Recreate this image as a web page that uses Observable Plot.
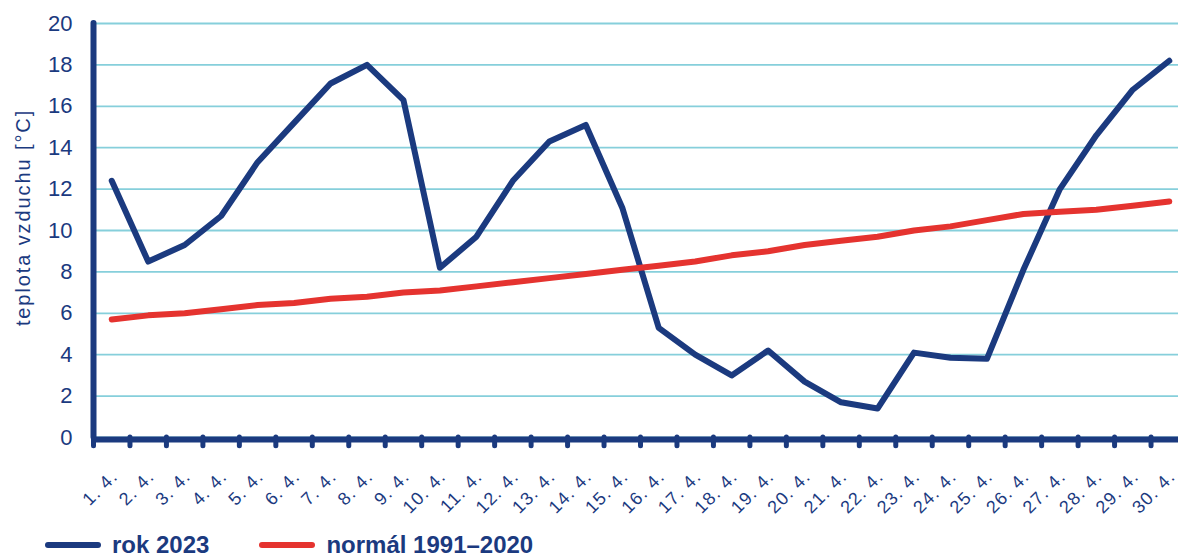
<!DOCTYPE html>
<html><head><meta charset="utf-8">
<script src="https://cdn.jsdelivr.net/npm/d3@7"></script>
<script src="https://cdn.jsdelivr.net/npm/@observablehq/plot@0.6"></script>
<style>
body{margin:0;background:#fff;font-family:"Liberation Sans",Arial,sans-serif;}
#wrap{position:relative;width:1178px;height:553px;overflow:hidden;background:#fff}
#wrap svg{display:block}
.legend{position:absolute;left:45px;top:531px;display:flex;align-items:center;font-weight:bold;font-size:24px;line-height:28px;color:#1b3a7f;white-space:nowrap}
.sw{display:inline-block;width:56px;height:6px;border-radius:3px;margin-right:11px}
.item{display:flex;align-items:center;margin-right:50px}
</style></head><body><div id="wrap"></div>
<script>
const days = [1,2,3,4,5,6,7,8,9,10,11,12,13,14,15,16,17,18,19,20,21,22,23,24,25,26,27,28,29,30];
const dayLabels = ["1. 4.","2. 4.","3. 4.","4. 4.","5. 4.","6. 4.","7. 4.","8. 4.","9. 4.","10. 4.","11. 4.","12. 4.","13. 4.","14. 4.","15. 4.","16. 4.","17. 4.","18. 4.","19. 4.","20. 4.","21. 4.","22. 4.","23. 4.","24. 4.","25. 4.","26. 4.","27. 4.","28. 4.","29. 4.","30. 4."];
const rok2023 = [12.4,8.5,9.3,10.7,13.3,15.2,17.1,18.0,16.3,8.2,9.7,12.4,14.3,15.1,11.1,5.3,4.0,3.0,4.2,2.7,1.7,1.4,4.1,3.85,3.8,8.1,12.0,14.6,16.8,18.2];
const normal = [5.7,5.9,6.0,6.2,6.4,6.5,6.7,6.8,7.0,7.1,7.3,7.5,7.7,7.9,8.1,8.3,8.5,8.8,9.0,9.3,9.5,9.7,10.0,10.2,10.5,10.8,10.9,11.0,11.2,11.4];
const yTicks = [0,2,4,6,8,10,12,14,16,18,20];
const yLabel = "teplota vzduchu [°C]";
const seriesNames = ["rok 2023","normál 1991–2020"];

const blue = "#1b3a7f", red = "#e5332f", grid = "#86cfdb";
const rowsA = days.map((d,i)=>({day:d, label:dayLabels[i], v:rok2023[i]}));
const rowsB = days.map((d,i)=>({day:d, v:normal[i]}));
const bounds = days.map(d => d - 0.5);

const chart = Plot.plot({
  width: 1178, height: 490,
  marginLeft: 93, marginRight: 0, marginTop: 23, marginBottom: 53,
  style: {fontFamily: '"Liberation Sans", Arial, sans-serif', color: blue, background: "#fff", overflow: "visible"},
  x: {type: "linear", domain: [0.5, 30.5], range: [93, 1187], axis: null},
  y: {domain: [0, 20], axis: null},
  marks: [
    Plot.ruleY(yTicks, {stroke: grid, strokeWidth: 1.8}),
    Plot.ruleX(bounds, {x: d => d, y1: () => 0, y2: () => -0.42, stroke: blue, strokeWidth: 5, strokeLinecap: "round"}),
    Plot.ruleY([0], {stroke: blue, strokeWidth: 6, dy: 2}),
    Plot.ruleX([bounds[0]], {x: d => d, y1: () => 0, y2: () => 20, stroke: blue, strokeWidth: 6, strokeLinecap: "round"}),
    Plot.text(yTicks, {x: () => bounds[0], y: d => d, text: d => String(d), textAnchor: "end", dx: -21, fontSize: 22, fill: blue}),
    Plot.text(rowsA, {x: "day", y: () => 0, text: "label", rotate: -45, textAnchor: "end", dx: 3, dy: 36, fontSize: 18, fill: blue}),
    Plot.text([yLabel], {frameAnchor: "left", textAnchor: "middle", dx: -70, dy: -13, rotate: -90, fontSize: 20, fill: blue}),
    Plot.line(rowsA, {x: "day", y: "v", stroke: blue, strokeWidth: 6, strokeLinecap: "round", strokeLinejoin: "round"}),
    Plot.line(rowsB, {x: "day", y: "v", stroke: red, strokeWidth: 6, strokeLinecap: "round", strokeLinejoin: "round"})
  ]
});
d3.select(chart).selectAll("text").each(function() {
  const t = this.textContent;
  if (t === yLabel) this.style.letterSpacing = "1.9px";
  else if (dayLabels.includes(t)) this.style.letterSpacing = "1.2px";
});
const wrap = document.getElementById("wrap");
wrap.appendChild(chart);
const leg = document.createElement("div");
leg.className = "legend";
leg.innerHTML = `<span class="item"><span class="sw" style="background:${blue}"></span>${seriesNames[0]}</span><span class="item"><span class="sw" style="background:${red}"></span>${seriesNames[1]}</span>`;
wrap.appendChild(leg);
</script></body></html>
